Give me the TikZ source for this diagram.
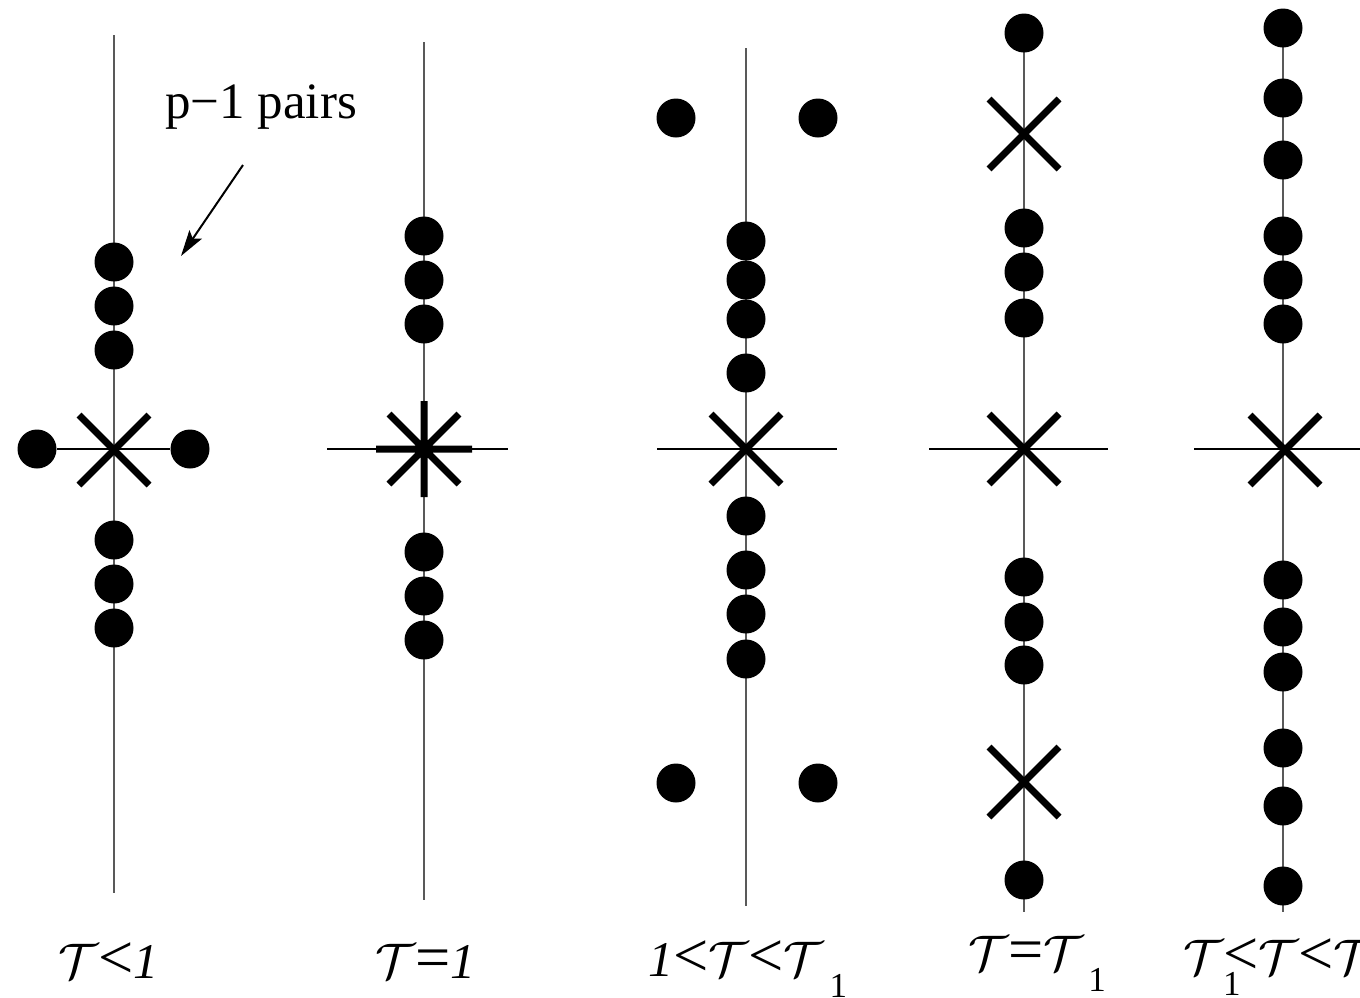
\RequirePackage{fix-cm}
\documentclass[tikz,border=0pt]{standalone}
\usepackage{fontspec}
\setmainfont{Liberation Serif}
\usetikzlibrary{arrows.meta}
\newcommand\Tc{$\mathcal{T}$}
\newcommand\rel[1]{\scalebox{1.25}{#1}}
\newcommand\lowsub[1]{\raisebox{-21pt}{\fontsize{35}{35}\selectfont #1}}
\begin{document}
\begin{tikzpicture}[x=1pt,y=-1pt,
  axis/.style={line width=1.3pt, black!65},
  hline/.style={line width=1.3pt, black},
  pt/.style={circle, fill=black, inner sep=0pt, minimum size=39pt},
  xmark/.style={line width=7pt},
  cross/.pic={\draw[xmark] (-35,-35) -- (35,35) (-35,35) -- (35,-35);},
  star/.pic={\draw[xmark] (0,-48) -- (0,48) (-48,0) -- (48,0)
                          (-35,-35) -- (35,35) (-35,35) -- (35,-35);},
  lbl/.style={anchor=base west, inner sep=0pt, font=\fontsize{50}{60}\selectfont},
]
\useasboundingbox (0,0) rectangle (1360,997);

% ---- panel 1 : T<1 ----
\coordinate (a-top) at (114,35);
\coordinate (a-bot) at (114,893);
\draw[axis] (a-top) -- (a-bot);
\node[pt] (a-l) at (37,449) {};
\node[pt] (a-r) at (190,449) {};
\draw[hline] (a-l) -- (a-r);
\foreach \y [count=\i] in {262,306,350,540,584,628}
  \node[pt] (a\i) at (114,\y) {};
\pic at (114,450) {cross};
\node[anchor=base west, inner sep=0pt, font=\fontsize{51}{60}\selectfont]
  (pairs) at (165,118) {p\textminus1 pairs};
\coordinate (arr-s) at (243,165);
\coordinate (arr-e) at (181,256);
\draw[line width=2pt, -{Stealth[length=26pt,width=15pt,inset=5pt]}] (arr-s) -- (arr-e);
\node[lbl] (la) at (58,978) {\Tc\rel{<}\textit{1}};

% ---- panel 2 : T=1 ----
\coordinate (b-top) at (424,42);
\coordinate (b-bot) at (424,900);
\coordinate (b-l) at (327,449);
\coordinate (b-r) at (508,449);
\draw[axis] (b-top) -- (b-bot);
\draw[hline] (b-l) -- (b-r);
\foreach \y [count=\i] in {236,280,324,552,596,640}
  \node[pt] (b\i) at (424,\y) {};
\pic at (424,449) {star};
\node[lbl] (lb) at (375,978) {\Tc\rel{=}\textit{1}};

% ---- panel 3 : 1<T<T1 ----
\coordinate (c-top) at (746,48);
\coordinate (c-bot) at (746,906);
\coordinate (c-l) at (657,449);
\coordinate (c-r) at (837,449);
\draw[axis] (c-top) -- (c-bot);
\draw[hline] (c-l) -- (c-r);
\foreach \y [count=\i] in {241,280,319,373,516,570,614,659}
  \node[pt] (c\i) at (746,\y) {};
\node[pt] (c-ul) at (676,118) {};
\node[pt] (c-ur) at (818,118) {};
\node[pt] (c-ll) at (676,783) {};
\node[pt] (c-lr) at (818,783) {};
\pic at (746,449) {cross};
\node[lbl] (lc) at (648,976) {\textit{1}\rel{<}\Tc\rel{<}\Tc\kern6pt\lowsub{1}};

% ---- panel 4 : T=T1 ----
\coordinate (d-top) at (1024,50);
\coordinate (d-bot) at (1024,912);
\coordinate (d-l) at (929,449);
\coordinate (d-r) at (1108,449);
\draw[axis] (d-top) -- (d-bot);
\draw[hline] (d-l) -- (d-r);
\foreach \y [count=\i] in {33,228,272,318,577,622,665,880}
  \node[pt] (d\i) at (1024,\y) {};
\pic at (1024,134) {cross};
\pic at (1024,449) {cross};
\pic at (1024,782) {cross};
\node[lbl] (ld) at (968,970) {\Tc\rel{=}\Tc\kern5pt\lowsub{1}};

% ---- panel 5 : T1<T<T2 ----
\coordinate (e-top) at (1283,45);
\coordinate (e-bot) at (1283,912);
\coordinate (e-l) at (1194,449);
\coordinate (e-r) at (1360,449);
\draw[axis] (e-top) -- (e-bot);
\draw[hline] (e-l) -- (e-r);
\foreach \y [count=\i] in {28,98,160,236,280,324,580,627,672,748,806,886}
  \node[pt] (e\i) at (1283,\y) {};
\pic at (1285,450) {cross};
\node[lbl] (le) at (1183,974)
  {\Tc\rlap{\lowsub{1}}\rel{<}\Tc\rel{<}\Tc\kern6pt\lowsub{2}};
\end{tikzpicture}
\end{document}
